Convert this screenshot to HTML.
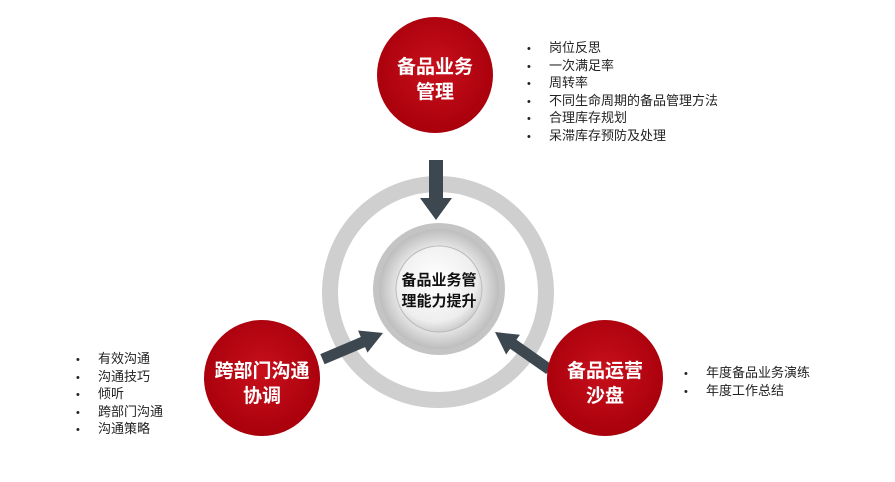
<!DOCTYPE html>
<html><head><meta charset="utf-8"><style>
body{margin:0;width:895px;height:482px;background:#fff;overflow:hidden;position:relative;font-family:"Liberation Sans","Noto Sans CJK SC",sans-serif}
ul{position:absolute;margin:0;padding:0;list-style:none;font-size:13px;line-height:16.5px;color:#222}
li:before{content:"•";display:inline-block;width:22px;font-size:11px}
</style></head><body>
<svg width="895" height="482" style="position:absolute;left:0;top:0">
<defs>
<radialGradient id="g1" cx="50%" cy="50%" r="50%"><stop offset="0.6" stop-color="#f4f4f4"/><stop offset="1" stop-color="#bdbdbd"/></radialGradient>
<radialGradient id="g2" cx="45%" cy="40%" r="60%"><stop offset="0" stop-color="#ffffff"/><stop offset="0.8" stop-color="#eeeeee"/><stop offset="1" stop-color="#cfcfcf"/></radialGradient>
<radialGradient id="rd" cx="50%" cy="45%" r="55%"><stop offset="0" stop-color="#c8101c"/><stop offset="1" stop-color="#a8000c"/></radialGradient>
</defs>
<circle cx="438" cy="292" r="108" fill="none" stroke="#cfcfcf" stroke-width="16"/>
<circle cx="439" cy="289" r="66" fill="#c4c4c4"/>
<circle cx="439" cy="289" r="60" fill="url(#g1)"/>
<circle cx="439" cy="289" r="43" fill="url(#g2)" stroke="#bbb" stroke-width="1"/>
<g fill="#3d4750">
<polygon points="429,160 443,160 443,198 452,198 436,220 420,198 429,198"/>
<g transform="translate(383,333) rotate(-23)"><polygon points="0,0 -22,-12 -22,-5 -66,-5 -66,6 -22,6 -22,12"/></g>
<g transform="translate(495,332) rotate(215)"><polygon points="0,0 -22,-12 -22,-5 -66,-5 -66,6 -22,6 -22,12"/></g>
</g>
<circle cx="435" cy="75" r="58" fill="url(#rd)"/>
<circle cx="262" cy="378" r="58" fill="url(#rd)"/>
<circle cx="605" cy="378" r="58" fill="url(#rd)"/>
<g font-family="Liberation Sans,Noto Sans CJK SC,sans-serif" font-weight="bold" font-size="19" fill="#fff" text-anchor="middle">
<text x="435" y="73">备品业务</text><text x="435" y="98">管理</text>
<text x="262" y="377">跨部门沟通</text><text x="262" y="402">协调</text>
<text x="605" y="377">备品运营</text><text x="605" y="402">沙盘</text>
</g>
<g font-family="Liberation Sans,Noto Sans CJK SC,sans-serif" font-weight="bold" font-size="15" fill="#111" text-anchor="middle">
<text x="439" y="285">备品业务管</text><text x="439" y="306">理能力提升</text>
</g>
</svg>
<ul style="left:527px;top:40px"><li>岗位反思</li><li>一次满足率</li><li>周转率</li><li>不同生命周期的备品管理方法</li><li>合理库存规划</li><li>呆滞库存预防及处理</li></ul>
<ul style="left:76px;top:351px"><li>有效沟通</li><li>沟通技巧</li><li>倾听</li><li>跨部门沟通</li><li>沟通策略</li></ul>
<ul style="left:684px;top:365px"><li>年度备品业务演练</li><li>年度工作总结</li></ul>
</body></html>
